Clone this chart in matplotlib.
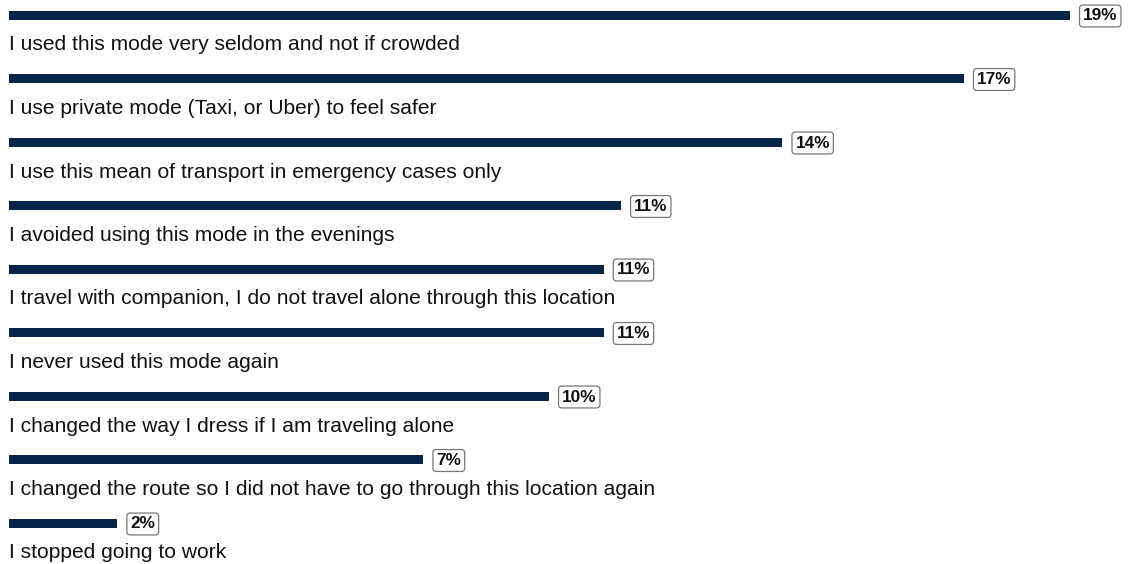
import matplotlib
matplotlib.use("Agg")
import matplotlib.pyplot as plt

categories = [
    "I used this mode very seldom and not if crowded",
    "I use private mode (Taxi, or Uber) to feel safer",
    "I use this mean of transport in emergency cases only",
    "I avoided using this mode in the evenings",
    "I travel with companion, I do not travel alone through this location",
    "I never used this mode again",
    "I changed the way I dress if I am traveling alone",
    "I changed the route so I did not have to go through this location again",
    "I stopped going to work",
]
values = [19.0, 17.1, 13.85, 10.96, 10.65, 10.65, 9.67, 7.42, 1.94]

BAR_COLOR = "#062649"
plt.rcParams["font.family"] = ["Liberation Sans", "DejaVu Sans"]

W, H = 1130, 564
fig = plt.figure(figsize=(W / 100, H / 100), dpi=100)
px_per_unit = (1070 - 9) / 19.0
left_px = 9
ax = fig.add_axes([left_px / W, 0, 1 - left_px / W, 1])
ax.set_xlim(0, (W - left_px) / px_per_unit)

row_px = 63.5
top_px = 15
ax.set_ylim((H - top_px) / row_px, -top_px / row_px)

ys = list(range(len(categories)))
ax.barh(ys, values, height=9 / row_px, color=BAR_COLOR, left=0)

label_offset = 30 / row_px
for y, cat, v in zip(ys, categories, values):
    ax.text(0, y + label_offset, cat, fontsize=15.1, va="center", ha="left",
            color="#111111")
    ax.text(v + 13 / px_per_unit, y + 1 / row_px, f"{round(v)}%", fontsize=12.4,
            fontweight="bold", va="center", ha="left", color="#111111",
            bbox=dict(boxstyle="round,pad=0.2,rounding_size=0.2",
                      facecolor="white", edgecolor="#777777", linewidth=0.9))

ax.axis("off")
fig.savefig("out.png", dpi=100)
